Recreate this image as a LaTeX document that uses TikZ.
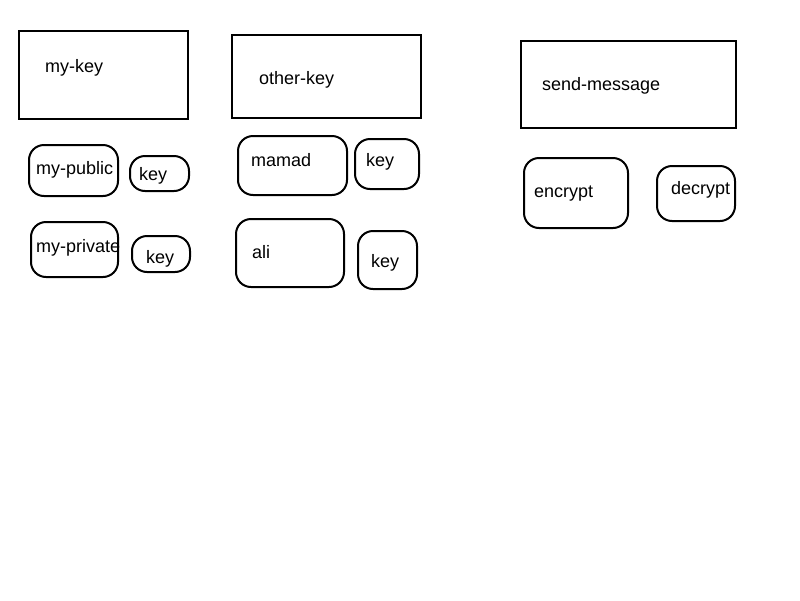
\documentclass[tikz,border=0pt]{standalone}
\usepackage{fontspec}
\setmainfont{Liberation Sans}
\usetikzlibrary{positioning}

\tikzset{
  bigbox/.style={draw=black, line width=2pt, minimum width=#1},
  keybox/.style={draw=black, line width=2pt, rounded corners=15pt},
  lbl/.style={anchor=base west, inner sep=0pt, font=\fontsize{18}{20}\selectfont}
}

\begin{document}
\begin{tikzpicture}[x=1pt,y=-1pt]
		%% white page, same size as the reference
		\useasboundingbox[fill=white] (0,0) rectangle (800,600);
		%% the three big boxes
		\node[bigbox=169pt, minimum height=88pt] (mykey) at (103.5,75) {};
		\node[bigbox=189pt, minimum height=83pt] (otherkey) at (326.5,76.5) {};
		\node[bigbox=215pt, minimum height=87pt] (sendmsg) at (628.5,84.5) {};
		\node[lbl] (mykeylbl) at (45,72) {my-key};
		\node[lbl] (otherkeylbl) at (259,84) {other-key};
		\node[lbl] (sendmsglbl) at (542,90) {send-message};
		%% rounded boxes under my-key
		\node[keybox, minimum width=89pt, minimum height=51pt] (mypublic) at (73.5,170.5) {};
		\node[keybox, minimum width=59pt, minimum height=35pt] (pubkey) at (159.5,173.5) {};
		\node[keybox, minimum width=87pt, minimum height=55pt] (myprivate) at (74.5,249.5) {};
		\node[keybox, minimum width=58pt, minimum height=36pt] (privkey) at (161,254) {};
		\node[lbl] (mypubliclbl) at (36,174) {my-public};
		\node[lbl] (pubkeylbl) at (139,180) {key};
		\node[lbl] (myprivatelbl) at (36,252) {my-private};
		\node[lbl] (privkeylbl) at (146,263) {key};
		%% rounded boxes under other-key
		\node[keybox, minimum width=109pt, minimum height=59pt] (mamad) at (292.5,165.5) {};
		\node[keybox, minimum width=64pt, minimum height=50pt] (mamadkey) at (387,164) {};
		\node[keybox, minimum width=108pt, minimum height=68pt] (ali) at (290,253) {};
		\node[keybox, minimum width=59pt, minimum height=58pt] (alikey) at (387.5,260) {};
		\node[lbl] (mamadlbl) at (251,166) {mamad};
		\node[lbl] (mamadkeylbl) at (366,166) {key};
		\node[lbl] (alilbl) at (252,258) {ali};
		\node[lbl] (alikeylbl) at (371,267) {key};
		%% rounded boxes under send-message
		\node[keybox, minimum width=104pt, minimum height=70pt] (encrypt) at (576,193) {};
		\node[keybox, minimum width=78pt, minimum height=55pt] (decrypt) at (696,193.5) {};
		\node[lbl] (encryptlbl) at (534,197) {encrypt};
		\node[lbl] (decryptlbl) at (671,194) {decrypt};
	\end{tikzpicture}
\end{document}
